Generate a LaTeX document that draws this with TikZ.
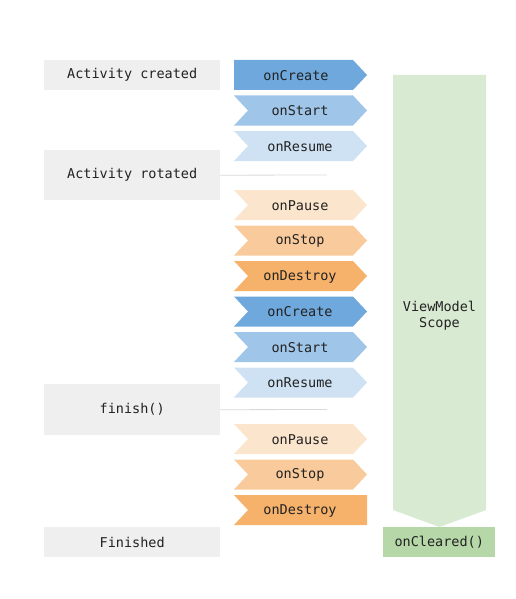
\documentclass[tikz,border=0pt]{standalone}
\usepackage{fontspec}
\setmonofont{DejaVu Sans Mono}
\definecolor{cA}{HTML}{6FA8DC}
\definecolor{cB}{HTML}{9FC5E8}
\definecolor{cC}{HTML}{CFE2F3}
\definecolor{oA}{HTML}{FCE5CD}
\definecolor{oB}{HTML}{F9CB9C}
\definecolor{oC}{HTML}{F6B26B}
\definecolor{gbox}{HTML}{EFEFEF}
\definecolor{gline}{HTML}{D9D9D9}
\definecolor{gscope}{HTML}{D9EAD3}
\definecolor{gclear}{HTML}{B6D7A8}
\definecolor{txt}{HTML}{222222}
\tikzset{
  lbl/.style={font=\ttfamily\fontsize{13.5}{16}\selectfont, text=txt, inner sep=0pt},
  graybox/.style={lbl, fill=gbox, minimum width=176pt, anchor=north west},
  sepline/.style={draw=gline, line width=0.8pt}
}
\newcommand\lcarrow[6]{%
  \fill[#3] (234,#2) -- (353,#2) -- (367,#2+15) -- (353,#2+30) -- (234,#2+30) -- (234+#5,#2+15) -- cycle;
  \node[lbl] (#1) at (#6,#2+15.5) {#4};}
\begin{document}
\begin{tikzpicture}[x=1pt,y=-1pt]
\useasboundingbox (0,0) rectangle (516,599);
% left gray boxes
\node[graybox, minimum height=30pt] (created) at (44,60) {Activity created};
\node[graybox, minimum height=50pt] (rotated) at (44,150) {Activity rotated};
\node[graybox, minimum height=51pt] (finish) at (44,384) {finish()};
\node[graybox, minimum height=30pt] (finished) at (44,527) {Finished};
% lifecycle arrows
\lcarrow{create1}{60}{cA}{onCreate}{0}{296}
\lcarrow{start1}{95.5}{cB}{onStart}{14}{300}
\lcarrow{resume1}{131}{cC}{onResume}{14}{300}
\lcarrow{pause1}{190}{oA}{onPause}{14}{300}
\lcarrow{stop1}{225.5}{oB}{onStop}{14}{300}
\lcarrow{destroy1}{261}{oC}{onDestroy}{14}{300}
\lcarrow{create2}{296.5}{cA}{onCreate}{14}{300}
\lcarrow{start2}{332}{cB}{onStart}{14}{300}
\lcarrow{resume2}{367.5}{cC}{onResume}{14}{300}
\lcarrow{pause2}{424}{oA}{onPause}{14}{300}
\lcarrow{stop2}{459.5}{oB}{onStop}{14}{300}
\fill[oC] (234,495) -- (367,495) -- (367,525) -- (234,525) -- (248,510) -- cycle;
\node[lbl] (destroy2) at (300,510.5) {onDestroy};
% separator lines
\coordinate (sep1) at (327,175);
\coordinate (sep2) at (327,409.5);
\draw[sepline] (rotated.east) -- (sep1);
\draw[sepline] (finish.east) -- (sep2);
% scope
\fill[gscope] (393,75) -- (486,75) -- (486,510) -- (439.5,527) -- (393,510) -- cycle;
\node[lbl, align=center] (scope) at (439.5,316) {ViewModel\\Scope};
\node[lbl, fill=gclear, minimum width=112pt, minimum height=30pt, anchor=north west] (cleared) at (383,527) {onCleared()};
\end{tikzpicture}
\end{document}
